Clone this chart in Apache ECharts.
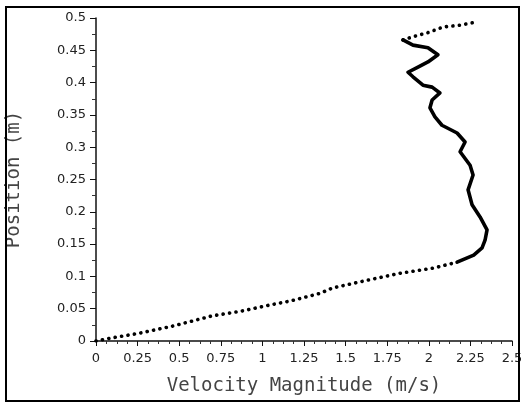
<!DOCTYPE html>
<html>
<head>
<meta charset="utf-8">
<title>Velocity profile</title>
<script src="https://cdn.jsdelivr.net/npm/echarts@6/dist/echarts.min.js"></script>
<style>
  html, body { margin: 0; padding: 0; background: #fff; }
</style>
</head>
<body>
<div id="main" style="width:521px;height:403px;"></div>
<script>
// [velocity m/s, position m]
var lowerBranch = [
  [0, 0], [0.10, 0.005], [0.26, 0.012], [0.46, 0.023], [0.70, 0.039],
  [0.87, 0.046], [1.05, 0.056], [1.17, 0.062], [1.35, 0.074], [1.42, 0.082],
  [1.63, 0.094], [1.83, 0.105], [2.03, 0.113], [2.17, 0.122]
];
var middleBranch = [
  [2.17, 0.122], [2.27, 0.133], [2.32, 0.144], [2.338, 0.156], [2.35, 0.172],
  [2.308, 0.192], [2.26, 0.211], [2.236, 0.234], [2.266, 0.257], [2.248, 0.272],
  [2.188, 0.293], [2.218, 0.308], [2.17, 0.322], [2.079, 0.334], [2.037, 0.347],
  [2.007, 0.361], [2.02, 0.373], [2.067, 0.384], [2.02, 0.393], [1.965, 0.396],
  [1.905, 0.409], [1.875, 0.416], [1.935, 0.424], [1.995, 0.432], [2.055, 0.443],
  [1.995, 0.454], [1.905, 0.458], [1.845, 0.466]
];
var topBranch = [
  [1.845, 0.466], [1.905, 0.471], [1.99, 0.477], [2.085, 0.486], [2.19, 0.489], [2.29, 0.494]
];

var xName = 'Velocity Magnitude (m/s)';
var yName = 'Position (m)';

var myChart = echarts.init(document.getElementById('main'));

var labelStyle = { fontFamily: 'DejaVu Sans', fontSize: 13, color: '#222' };
var nameStyle = { fontFamily: 'DejaVu Sans Mono', fontSize: 19, color: '#444' };

function dotted(data) {
  return {
    type: 'line', data: data, symbol: 'none', silent: true,
    lineStyle: { color: '#000', width: 3.6, type: [0.1, 6.4], cap: 'round' }
  };
}

var option = {
  animation: false,
  grid: { left: 96, top: 18, right: 9, bottom: 62, outerBoundsMode: 'none' },
  xAxis: {
    type: 'value', min: 0, max: 2.5, interval: 0.25,
    name: xName, nameLocation: 'middle', nameGap: 36, nameTextStyle: nameStyle,
    axisLine: { onZero: false, lineStyle: { color: '#111', width: 1.5 } },
    axisTick: { length: 5, lineStyle: { color: '#111' } },
    minorTick: { show: true, splitNumber: 4, length: 3, lineStyle: { color: '#333' } },
    splitLine: { show: false },
    axisLabel: Object.assign({ margin: 11, showMinLabel: true, showMaxLabel: true }, labelStyle)
  },
  yAxis: {
    type: 'value', min: 0, max: 0.5, interval: 0.05,
    name: yName, nameLocation: 'middle', nameGap: 72, nameTextStyle: nameStyle,
    axisLine: { onZero: false, lineStyle: { color: '#111', width: 1.5 } },
    axisTick: { length: 6, lineStyle: { color: '#111' } },
    minorTick: { show: true, splitNumber: 2, length: 4, lineStyle: { color: '#333' } },
    splitLine: { show: false },
    axisLabel: Object.assign({ margin: 10, showMinLabel: true, showMaxLabel: true }, labelStyle)
  },
  graphic: [{
    type: 'rect', silent: true, z: 100,
    shape: { x: 6, y: 7, width: 513, height: 394 },
    style: { fill: null, stroke: '#000', lineWidth: 2 }
  }],
  series: [
    dotted(lowerBranch),
    {
      type: 'line', data: middleBranch, symbol: 'none', silent: true,
      lineStyle: { color: '#000', width: 3.6, join: 'round', cap: 'round' }
    },
    dotted(topBranch)
  ]
};

myChart.setOption(option);
</script>
</body>
</html>
